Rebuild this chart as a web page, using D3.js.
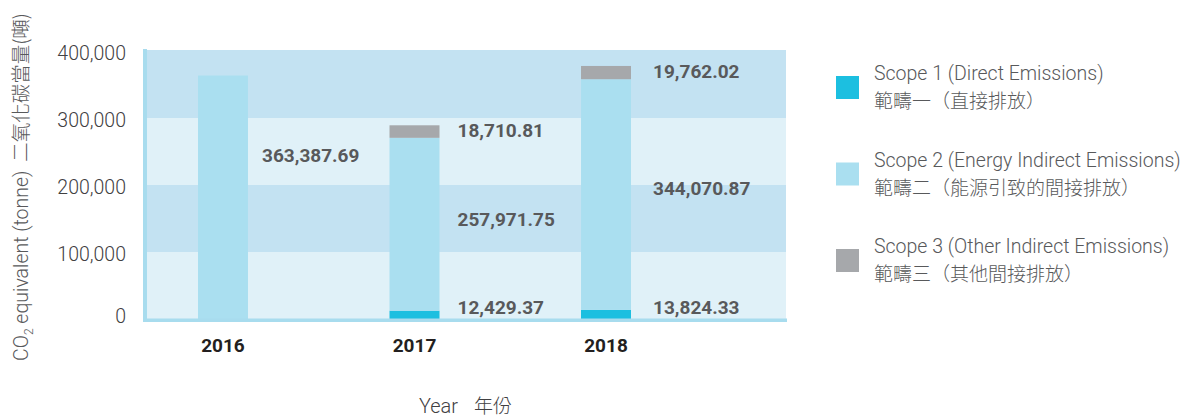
<!DOCTYPE html>
<html>
<head>
<meta charset="utf-8">
<script src="https://cdn.jsdelivr.net/npm/d3@7"></script>
<style>
  body { margin: 0; background: #fff; }
  svg { display: block; }
</style>
</head>
<body>
<svg id="chart" width="1190" height="419"></svg>
<script>
// data
var years = ["2016", "2017", "2018"];
var scope1 = [0, 12429.37, 13824.33];
var scope2 = [363387.69, 257971.75, 344070.87];
var scope3 = [0, 18710.81, 19762.02];
var yTicks = [0, 100000, 200000, 300000, 400000];
var seriesNames = ["Scope 1 (Direct Emissions)", "Scope 2 (Energy Indirect Emissions)", "Scope 3 (Other Indirect Emissions)"];
var seriesNamesZh = ["範疇一（直接排放）", "範疇二（能源引致的間接排放）", "範疇三（其他間接排放）"];
// level (tonnes) where the scope 2 value text sits
var scope2LabelAt = [245000, 150000, 196000];

var colors = ["#1cbfe0", "#aadff0", "#a6a8ab"];
var bandDark = "#c3e2f2", bandLight = "#e0f1f8", axisColor = "#a8dcee";
var latin = "Roboto, 'Noto Sans', sans-serif";
var cjk = "'Noto Sans CJK TC', 'Noto Sans CJK SC', sans-serif";

var svg = d3.select("#chart");

var plot = {left: 145, right: 786, top: 50, bottom: 319};

var y = d3.scaleLinear()
  .domain([0, 400000])
  .range([plot.bottom, 51]);

var x = d3.scaleBand()
  .domain(years)
  .range([198, 631])
  .paddingInner(0.739)
  .paddingOuter(0);

var labelX = d3.scalePoint()
  .domain(years)
  .range([262, 653]);

// background bands between ticks, darker on top
var bands = d3.pairs(yTicks);
svg.append("g").selectAll("rect")
  .data(bands)
  .enter()
  .append("rect")
  .attr("x", plot.left + 2)
  .attr("width", plot.right - plot.left - 2)
  .attr("y", function(d){ return d[1] === 400000 ? plot.top : y(d[1]); })
  .attr("height", function(d){ return y(d[0]) - (d[1] === 400000 ? plot.top : y(d[1])); })
  .style("fill", function(d, i){ return i % 2 === 0 ? bandLight : bandDark; });

// stacked bars
var rows = years.map(function(yr, i){
  return {year: yr, s1: scope1[i], s2: scope2[i], s3: scope3[i]};
});
var stack = d3.stack().keys(["s1", "s2", "s3"]);
var layers = stack(rows);

svg.append("g").selectAll("g")
  .data(layers)
  .enter()
  .append("g")
  .style("fill", function(d, i){ return colors[i]; })
  .selectAll("rect")
  .data(function(d){ return d; })
  .enter()
  .append("rect")
  .attr("x", function(d){ return x(d.data.year); })
  .attr("width", x.bandwidth())
  .attr("y", function(d){ return y(d[1]); })
  .attr("height", function(d){ return y(d[0]) - y(d[1]); });

// axis lines (thick light blue)
svg.append("rect")
  .attr("x", plot.left - 2)
  .attr("y", plot.top - 1)
  .attr("width", 4)
  .attr("height", plot.bottom - plot.top + 4)
  .style("fill", axisColor);
svg.append("rect")
  .attr("x", plot.left - 2)
  .attr("y", plot.bottom - 0.5)
  .attr("width", plot.right - plot.left + 3)
  .attr("height", 3.5)
  .style("fill", axisColor);

// y tick labels
var yAxis = svg.append("g")
  .attr("transform", "translate(126,0)")
  .call(d3.axisLeft(y).tickValues(yTicks).tickSize(0).tickPadding(0).tickFormat(d3.format(",")));
yAxis.select(".domain").remove();
yAxis.selectAll("text")
  .attr("dy", null)
  .attr("y", function(d){ return d === 0 ? 3.5 : 8.5; })
  .style("font-family", latin)
  .style("font-weight", 300)
  .style("font-size", "19.5px")
  .style("fill", "#414042");

// x tick labels
svg.append("g").selectAll("text")
  .data(years)
  .enter()
  .append("text")
  .attr("x", function(d){ return x(d) + x.bandwidth() / 2; })
  .attr("y", 352)
  .attr("text-anchor", "middle")
  .style("font-family", latin)
  .style("font-weight", 700)
  .style("font-size", "19px")
  .style("fill", "#231f20")
  .text(function(d){ return d; });

// value labels
var fmt = d3.format(",.2f");
var valueLabels = [];
rows.forEach(function(r, i){
  if (r.s1 > 0) valueLabels.push({year: r.year, v: r.s1, yy: y(0) - 5.5});
  valueLabels.push({year: r.year, v: r.s2, yy: y(scope2LabelAt[i]) + 7});
  if (r.s3 > 0) {
    var top = r.s1 + r.s2 + r.s3, bot = r.s1 + r.s2;
    valueLabels.push({year: r.year, v: r.s3, yy: (y(top) + y(bot)) / 2 + 5.5});
  }
});
svg.append("g").selectAll("text")
  .data(valueLabels)
  .enter()
  .append("text")
  .attr("x", function(d){ return labelX(d.year); })
  .attr("y", function(d){ return d.yy; })
  .style("font-family", latin)
  .style("font-weight", 700)
  .style("font-size", "19px")
  .style("fill", "#58595b")
  .text(function(d){ return fmt(d.v); });

// axis titles
var yTitle = svg.append("text")
  .attr("transform", "translate(28,187) rotate(-90)")
  .attr("text-anchor", "middle")
  .style("font-family", latin)
  .style("font-weight", 300)
  .style("font-size", "19.5px")
  .style("fill", "#58595b");
yTitle.append("tspan").text("CO");
yTitle.append("tspan").attr("dy", 5).style("font-size", "12px").text("2");
yTitle.append("tspan").attr("dy", -5).text(" equivalent (tonne) ");
yTitle.append("tspan").attr("dx", 4).style("font-family", cjk).style("font-weight", 300).text("二氧化碳當量(噸)");

var xTitle = svg.append("text")
  .attr("x", (plot.left + plot.right) / 2)
  .attr("y", 413)
  .attr("text-anchor", "middle")
  .style("font-family", latin)
  .style("font-weight", 300)
  .style("font-size", "20px")
  .style("fill", "#414042");
xTitle.append("tspan").text("Year");
xTitle.append("tspan").attr("dx", 16).style("font-family", cjk).style("font-weight", 300).style("font-size", "19px").text("年份");

// legend
var legend = svg.append("g").selectAll("g")
  .data(seriesNames)
  .enter()
  .append("g")
  .attr("transform", function(d, i){ return "translate(836," + (76 + i * 86.5) + ")"; });
legend.append("rect")
  .attr("width", 23)
  .attr("height", 23)
  .style("fill", function(d, i){ return colors[i]; });
legend.append("text")
  .attr("x", 38)
  .attr("y", 4)
  .style("font-family", latin)
  .style("font-weight", 300)
  .style("font-size", "19.5px")
  .style("fill", "#58595b")
  .text(function(d){ return d; });
legend.append("text")
  .attr("x", 38)
  .attr("y", 32)
  .style("font-family", cjk)
  .style("font-weight", 300)
  .style("font-size", "19px")
  .style("fill", "#58595b")
  .text(function(d, i){ return seriesNamesZh[i]; });
</script>
</body>
</html>
